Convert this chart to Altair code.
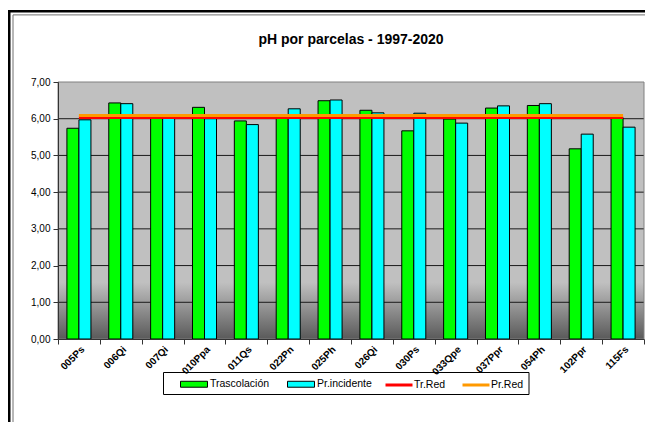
import altair as alt
import pandas as pd

categories = ["005Ps", "006Qi", "007Qi", "010Ppa", "011Qs", "022Pn", "025Ph",
              "026Qi", "030Ps", "033Qpe", "037Ppr", "054Ph", "102Ppr", "115Fs"]
trascolacion = [5.74, 6.43, 6.02, 6.31, 5.94, 6.02, 6.49, 6.23, 5.67, 5.99, 6.29, 6.36, 5.18, 6.03]
pr_incidente = [5.97, 6.41, 6.02, 6.00, 5.84, 6.27, 6.51, 6.16, 6.15, 5.88, 6.35, 6.41, 5.58, 5.77]
tr_red = 6.03
pr_red = 6.09
y_ticks = [0, 1, 2, 3, 4, 5, 6, 7]
grid_values = [1, 2, 3, 4, 5, 6]
bar_series = ["Trascolación", "Pr.incidente"]
bar_colors = ["#00FF00", "#00FFFF"]
line_series = ["Tr.Red", "Pr.Red"]
line_colors = ["#FF0000", "#FF9900"]
title_text = "pH por parcelas - 1997-2020"

W, H = 586, 257
FONT = "Liberation Sans"

n = len(categories)
bars_df = pd.DataFrame({
    "cat": categories * 2,
    "serie": [bar_series[0]] * n + [bar_series[1]] * n,
    "valor": trascolacion + pr_incidente,
})
lines_df = pd.DataFrame({
    "cat": categories * 2,
    "serie": [line_series[0]] * n + [line_series[1]] * n,
    "valor": [tr_red] * n + [pr_red] * n,
})
grid_df = pd.DataFrame({"valor": grid_values})
one = alt.Data(values=[{}])

yscale = alt.Scale(domain=[0, 7], nice=False, zero=True)
xscale = alt.Scale(paddingInner=0, paddingOuter=0)
label_expr = "replace(format(datum.value, '.2f'), '.', ',')"

y_axis = alt.Axis(values=y_ticks, labelExpr=label_expr, title=None, grid=False,
                  tickSize=5, tickColor="#333333", domainColor="#333333",
                  labelFont=FONT, labelFontSize=10, labelColor="black",
                  labelPadding=3, labelOverlap=False, zindex=1)
x_axis = alt.Axis(title=None, labelAngle=-45, labelAlign="right", labelBaseline="top",
                  labelFont=FONT, labelFontWeight="bold", labelFontSize=10,
                  labelColor="black", labelPadding=0, tickBand="extent", tickSize=5,
                  tickColor="#333333", domainColor="#333333", zindex=1, grid=False,
                  labelOverlap=False)

frame_outer = alt.Chart(one).mark_rect(fill="white", fillOpacity=0, stroke="black", strokeWidth=2.5).encode(
    x=alt.value(-48.75), y=alt.value(-70.8), x2=alt.value(W + 80), y2=alt.value(H + 140))
frame_inner = alt.Chart(one).mark_rect(fill="white", fillOpacity=0, stroke="#707070", strokeWidth=1).encode(
    x=alt.value(-45), y=alt.value(-67.1), x2=alt.value(W + 70), y2=alt.value(H + 130))
legend_box = alt.Chart(one).mark_rect(fill="white", stroke="black", strokeWidth=1).encode(
    x=alt.value(105.5), y=alt.value(290.5), x2=alt.value(471), y2=alt.value(312.5))

title = alt.Chart(one).mark_text(font=FONT, fontSize=14, fontWeight="bold", color="black",
                                 align="center", baseline="middle").encode(
    x=alt.value(W / 2), y=alt.value(-42), text=alt.value(title_text))

bg = alt.Chart(one).mark_rect(fill={
    "gradient": "linear", "x1": 0, "x2": 0, "y1": 0, "y2": 1,
    "stops": [{"offset": 0, "color": "#C0C0C0"},
              {"offset": 0.78, "color": "#C0C0C0"},
              {"offset": 1, "color": "#5A5A5A"}]}).encode(
    x=alt.value(0), y=alt.value(0), x2=alt.value(W), y2=alt.value(H))

grid = alt.Chart(grid_df).mark_rule(color="#1a1a1a", strokeWidth=1).encode(
    y=alt.Y("valor:Q", scale=yscale, axis=y_axis), x=alt.value(0), x2=alt.value(W))

border = alt.Chart(one).mark_rect(fill="white", fillOpacity=0, stroke="#808080", strokeWidth=1).encode(
    x=alt.value(0), y=alt.value(0), x2=alt.value(W), y2=alt.value(H))

bars = alt.Chart(bars_df).mark_bar(stroke="black", strokeWidth=1).encode(
    x=alt.X("cat:N", sort=categories, scale=xscale, axis=x_axis),
    xOffset=alt.XOffset("serie:N", sort=bar_series,
                        scale=alt.Scale(paddingOuter=0.742, paddingInner=0)),
    y=alt.Y("valor:Q", scale=yscale, axis=y_axis),
    fill=alt.Fill("serie:N", sort=bar_series,
                  scale=alt.Scale(domain=bar_series, range=bar_colors),
                  legend=alt.Legend(title=None, orient="none", legendX=122, legendY=288,
                                    direction="horizontal",
                                    symbolType="M-1,-0.22L1,-0.22L1,0.22L-1,0.22Z",
                                    symbolSize=729, symbolStrokeColor="black",
                                    symbolStrokeWidth=1, labelFont=FONT, labelFontSize=10.5,
                                    labelColor="black", labelOffset=2, columnPadding=15,
                                    padding=0)),
)

lines = alt.Chart(lines_df).mark_line(strokeWidth=3).encode(
    x=alt.X("cat:N", sort=categories, scale=xscale, axis=x_axis),
    y=alt.Y("valor:Q", scale=yscale, axis=y_axis),
    stroke=alt.Stroke("serie:N", sort=line_series,
                      scale=alt.Scale(domain=line_series, range=line_colors),
                      legend=alt.Legend(title=None, orient="none", legendX=326, legendY=288,
                                        direction="horizontal", symbolType="stroke",
                                        symbolSize=729, symbolStrokeWidth=3,
                                        labelFont=FONT, labelFontSize=10.5, labelColor="black",
                                        labelOffset=0, columnPadding=10, padding=0)),
)

chart = alt.layer(frame_outer, frame_inner, legend_box, title, bg, grid, border, bars, lines).properties(
    width=W, height=H,
    autosize=alt.AutoSizeParams(type="none"),
    padding={"left": 50, "top": 74, "right": 1, "bottom": 83},
    background="white",
).configure_view(stroke=None)

chart.save("out.html", embed_options={"renderer": "svg", "actions": False})
